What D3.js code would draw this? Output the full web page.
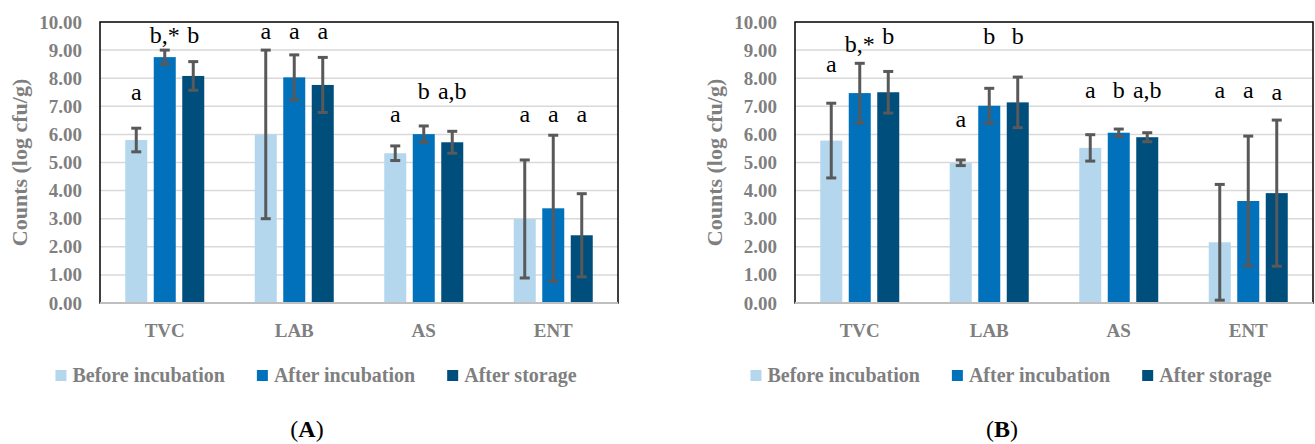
<!DOCTYPE html>
<html>
<head>
<meta charset="utf-8">
<script src="https://cdn.jsdelivr.net/npm/d3@7"></script>
<style>
  body { margin: 0; background: #fff; }
  svg text { font-family: "Liberation Serif", "DejaVu Serif", serif; }
</style>
</head>
<body>
<svg id="chart"></svg>
<script>
// // data
const categories = ["TVC", "LAB", "AS", "ENT"];
const series = ["Before incubation", "After incubation", "After storage"];
const yTicks = [0, 1, 2, 3, 4, 5, 6, 7, 8, 9, 10];

// panel A
const a_before = [5.80, 6.00, 5.33, 2.99];
const a_after = [8.75, 8.03, 6.01, 3.37];
const a_storage = [8.08, 7.76, 5.72, 2.41];
const a_before_sd = [0.42, 3.00, 0.26, 2.10];
const a_after_sd = [0.25, 0.80, 0.29, 2.60];
const a_storage_sd = [0.51, 0.98, 0.39, 1.48];
const a_before_lbl = ["a", "a", "a", "a"];
const a_after_lbl = ["b,*", "a", "b", "a"];
const a_storage_lbl = ["b", "a", "a,b", "a"];
const a_before_lvl = [7.22, 9.41, 6.45, 6.45];
const a_after_lvl = [9.25, 9.41, 7.26, 6.45];
const a_storage_lvl = [9.25, 9.41, 7.26, 6.45];

// panel B
const b_before = [5.78, 4.99, 5.52, 2.16];
const b_after = [7.47, 7.02, 6.06, 3.63];
const b_storage = [7.50, 7.14, 5.90, 3.91];
const b_before_sd = [1.33, 0.10, 0.47, 2.06];
const b_after_sd = [1.06, 0.62, 0.13, 2.31];
const b_storage_sd = [0.74, 0.90, 0.16, 2.60];
const b_before_lbl = ["a", "a", "a", "a"];
const b_after_lbl = ["b,*", "b", "b", "a"];
const b_storage_lbl = ["b", "b", "a,b", "a"];
const b_before_lvl = [8.23, 6.27, 7.28, 7.28];
const b_after_lvl = [8.94, 9.22, 7.28, 7.28];
const b_storage_lvl = [9.22, 9.22, 7.28, 7.22];

// // constants
const width = 1315;
const height = 444;
const plotW = 518;
const top_y = 22;
const bottom_y = 303;
const colors = ["#B4D7EE", "#0071BA", "#004E7B"];
const textGray = "#7F7F7F";

var svg = d3.select("svg#chart").attr("width", width).attr("height", height);

function buildRows(means, sds, lbls, lvls) {
    var rows = [];
    categories.forEach(function(c, i) {
        series.forEach(function(s, j) {
            rows.push({cat: c, key: s, idx: j, value: means[j][i], sd: sds[j][i], label: lbls[j][i], level: lvls[j][i]});
        });
    });
    return rows;
}

function drawPanel(offset, rows, tag) {
    var g = svg.append("g").attr("transform", "translate(" + offset + ",0)");
    var left = 100;

    var x = d3.scaleBand()
        .domain(categories)
        .range([left, left + plotW]);

    var xSub = d3.scaleBand()
        .domain(series)
        .range([-42.75, 42.75])
        .paddingInner(0.228)
        .paddingOuter(0.114);

    var y = d3.scaleLinear()
        .domain([0, 10])
        .range([bottom_y, top_y]);

    // gridlines
    g.append("g")
        .selectAll("line")
        .data(yTicks.filter(d => d > 0 && d < 10))
        .enter().append("line")
        .attr("x1", left).attr("x2", left + plotW)
        .attr("y1", d => y(d)).attr("y2", d => y(d))
        .attr("stroke", "#D9D9D9")
        .attr("stroke-width", 1.5);

    // tick labels
    var yAxis = g.append("g")
        .attr("transform", "translate(" + left + ",0)")
        .call(d3.axisLeft(y).tickValues(yTicks).tickFormat(d3.format(".2f")).tickSize(0).tickPadding(18));
    yAxis.select(".domain").remove();
    yAxis.selectAll("text")
        .attr("dy", "0.32em")
        .style("font-family", "Liberation Serif")
        .style("font-size", "19px")
        .style("font-weight", "bold")
        .attr("fill", textGray);

    // category labels
    g.append("g")
        .selectAll("text")
        .data(categories)
        .enter().append("text")
        .attr("x", d => x(d) + x.bandwidth() / 2)
        .attr("y", 337)
        .attr("text-anchor", "middle")
        .style("font-size", "19px")
        .style("font-weight", "bold")
        .attr("fill", textGray)
        .text(d => d);

    // bars
    var cx = d => x(d.cat) + x.bandwidth() / 2 + xSub(d.key) + xSub.bandwidth() / 2;
    g.append("g")
        .selectAll("rect")
        .data(rows)
        .enter().append("rect")
        .attr("x", d => cx(d) - xSub.bandwidth() / 2)
        .attr("y", d => y(d.value))
        .attr("width", xSub.bandwidth())
        .attr("height", d => y(0) - y(d.value))
        .attr("fill", d => colors[d.idx]);

    // error bars
    var eb = g.append("g")
        .selectAll("g")
        .data(rows)
        .enter().append("g")
        .attr("stroke", "#595959")
        .attr("stroke-width", 3);
    eb.append("line")
        .attr("x1", cx).attr("x2", cx)
        .attr("y1", d => y(d.value + d.sd)).attr("y2", d => y(Math.max(0, d.value - d.sd)));
    eb.append("line")
        .attr("x1", d => cx(d) - 5).attr("x2", d => cx(d) + 5)
        .attr("y1", d => y(d.value + d.sd)).attr("y2", d => y(d.value + d.sd));
    eb.append("line")
        .attr("x1", d => cx(d) - 5).attr("x2", d => cx(d) + 5)
        .attr("y1", d => y(Math.max(0, d.value - d.sd))).attr("y2", d => y(Math.max(0, d.value - d.sd)));

    // significance letters
    g.append("g")
        .selectAll("text")
        .data(rows)
        .enter().append("text")
        .attr("x", cx)
        .attr("y", d => y(d.level))
        .attr("text-anchor", "middle")
        .style("font-family", "Liberation Serif")
        .style("font-size", "24px")
        .attr("fill", "#000")
        .text(d => d.label);

    // frame
    g.append("rect")
        .attr("x", left).attr("y", top_y)
        .attr("width", plotW).attr("height", bottom_y - top_y)
        .attr("fill", "none")
        .attr("stroke", "#000")
        .attr("stroke-width", 1.5);
    g.append("line")
        .attr("x1", left).attr("x2", left + plotW)
        .attr("y1", bottom_y).attr("y2", bottom_y)
        .attr("stroke", "#BFBFBF")
        .attr("stroke-width", 2);

    // y title
    g.append("text")
        .attr("transform", "translate(26.5," + ((top_y + bottom_y) / 2) + ") rotate(-90)")
        .attr("text-anchor", "middle")
        .style("font-size", "22px")
        .style("font-weight", "bold")
        .attr("fill", textGray)
        .text("Counts (log cfu/g)");

    // legend
    var leg = g.append("g");
    var xpos = 0;
    series.forEach(function(s, j) {
        leg.append("rect")
            .attr("x", xpos).attr("y", 370)
            .attr("width", 11).attr("height", 11)
            .attr("fill", colors[j]);
        var t = leg.append("text")
            .attr("x", xpos + 17).attr("y", 382)
            .style("font-size", "20px")
            .style("font-weight", "bold")
            .attr("fill", textGray)
            .text(s);
        xpos += 17 + t.node().getComputedTextLength() + 32;
    });
    var legW = xpos - 32;
    leg.attr("transform", "translate(" + (316 - legW / 2) + ",0)");

    // panel tag
    var tt = g.append("text")
        .attr("x", 307).attr("y", 437)
        .attr("text-anchor", "middle")
        .style("font-size", "24px")
        .attr("fill", "#000");
    tt.append("tspan").text("(");
    tt.append("tspan").style("font-weight", "bold").text(tag);
    tt.append("tspan").text(")");
}

var rowsA = buildRows([a_before, a_after, a_storage], [a_before_sd, a_after_sd, a_storage_sd],
    [a_before_lbl, a_after_lbl, a_storage_lbl], [a_before_lvl, a_after_lvl, a_storage_lvl]);
var rowsB = buildRows([b_before, b_after, b_storage], [b_before_sd, b_after_sd, b_storage_sd],
    [b_before_lbl, b_after_lbl, b_storage_lbl], [b_before_lvl, b_after_lvl, b_storage_lvl]);

drawPanel(0, rowsA, "A");
drawPanel(695, rowsB, "B");
</script>
</body>
</html>
